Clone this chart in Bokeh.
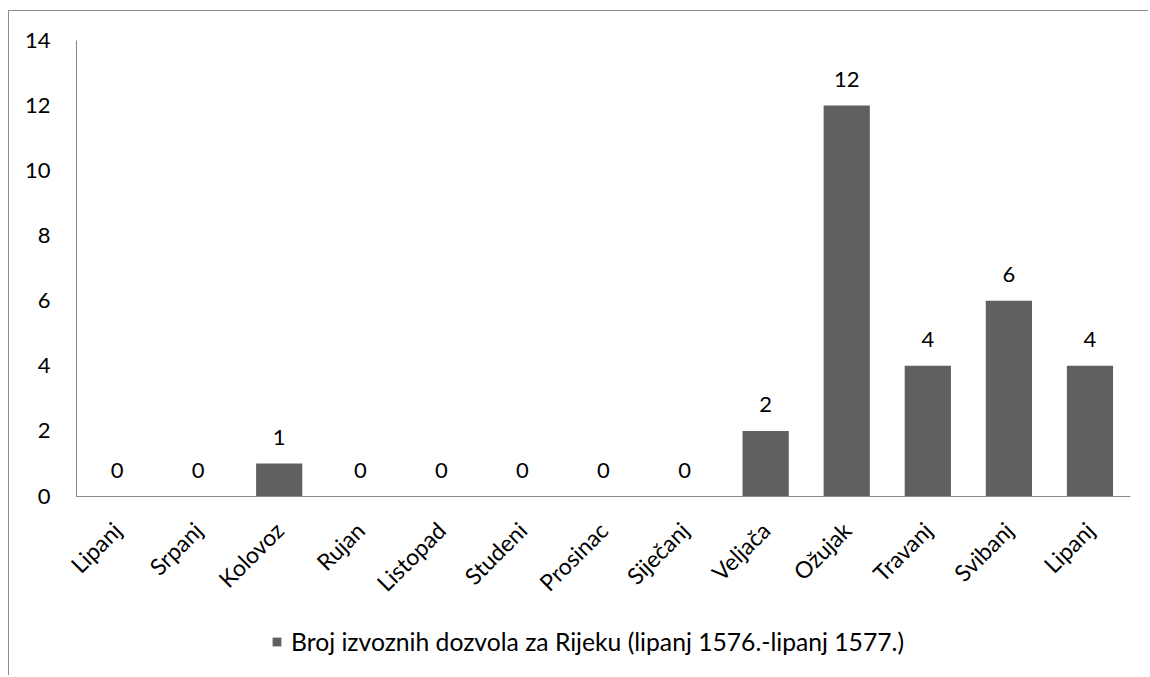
import math
from bokeh.plotting import figure
from bokeh.models import Range1d, FixedTicker, ColumnDataSource, Legend, LegendItem, LabelSet
from bokeh.core.properties import value
from bokeh.embed import file_html
from bokeh.resources import INLINE

months = ["Lipanj", "Srpanj", "Kolovoz", "Rujan", "Listopad", "Studeni", "Prosinac",
          "Siječanj", "Veljača", "Ožujak", "Travanj", "Svibanj", "Lipanj"]
counts = [0, 0, 1, 0, 0, 0, 0, 0, 2, 12, 4, 6, 4]
y_ticks = [0, 2, 4, 6, 8, 10, 12, 14]
series_name = "Broj izvoznih dozvola za Rijeku (lipanj 1576.-lipanj 1577.)"

FONT = "Lato"
FS = "22px"
BAR = "#606060"
AX = "#878787"

W, H = 1140, 665
TOP_SPACE, BOTTOM_SPACE = 29, 180.5     # pixels above the value axis top / below the zero line
LEFT_SPACE, RIGHT = 67, 19              # pixels left of the value axis / right margin
Y_MAX = 14
n = len(months)
px_per_unit = (H - TOP_SPACE - BOTTOM_SPACE) / Y_MAX
y_start = -BOTTOM_SPACE / px_per_unit
y_end = Y_MAX + TOP_SPACE / px_per_unit
px_per_cat = (W - RIGHT - LEFT_SPACE) / n
x_start = -0.5 - LEFT_SPACE / px_per_cat

idx = list(range(n))
src = ColumnDataSource(dict(x=idx, top=counts, lab=[str(c) for c in counts]))

p = figure(width=W, height=H, output_backend="svg", toolbar_location=None,
           x_range=Range1d(x_start, n - 0.5), y_range=Range1d(y_start, y_end),
           min_border_left=0, min_border_right=RIGHT, min_border_top=0, min_border_bottom=0)
p.styles = {"margin-left": "8px", "margin-top": "10px",
            "border-left": "1.5px solid #8c8c8c", "border-top": "1.5px solid #8c8c8c"}
p.outline_line_color = None
p.xgrid.visible = False
p.ygrid.visible = False

r = p.vbar(x="x", top="top", bottom=0, width=0.57, source=src, fill_color=BAR, line_color=None)

labels = LabelSet(x="x", y="top", text="lab", source=src, text_align="center",
                  text_baseline="middle", y_offset=26, text_font=value(FONT),
                  text_font_size=value(FS), text_color=value("#000000"))
p.add_layout(labels)

p.yaxis.fixed_location = -0.5
p.yaxis.ticker = FixedTicker(ticks=y_ticks)
p.yaxis.bounds = (0, Y_MAX)
p.yaxis.axis_line_color = AX
p.yaxis.major_tick_line_color = None
p.yaxis.minor_tick_line_color = None
p.yaxis.major_label_standoff = 20
p.yaxis.major_label_text_font = FONT
p.yaxis.major_label_text_font_size = FS
p.yaxis.major_label_text_color = "#000000"

p.xaxis.fixed_location = 0
p.xaxis.bounds = (-0.5, n - 0.5)
p.xaxis.ticker = FixedTicker(ticks=idx)
p.xaxis.major_label_overrides = {i: m for i, m in zip(idx, months)}
p.xaxis.major_label_orientation = math.pi / 4
p.xaxis.axis_line_color = AX
p.xaxis.major_tick_line_color = None
p.xaxis.minor_tick_line_color = None
p.xaxis.major_label_standoff = 24
p.xaxis.major_label_text_font = FONT
p.xaxis.major_label_text_font_size = "23px"
p.xaxis.major_label_text_color = "#000000"

legend = Legend(items=[LegendItem(label=series_name, renderers=[r])],
                location=(262, 20), orientation="horizontal",
                border_line_color=None, background_fill_alpha=0,
                padding=0, margin=0, glyph_width=11, glyph_height=11,
                label_standoff=9, label_text_font=FONT, label_text_font_size="24.7px",
                label_text_color="#000000")
p.add_layout(legend, "center")

open("out.html", "w").write(file_html(p, INLINE))
